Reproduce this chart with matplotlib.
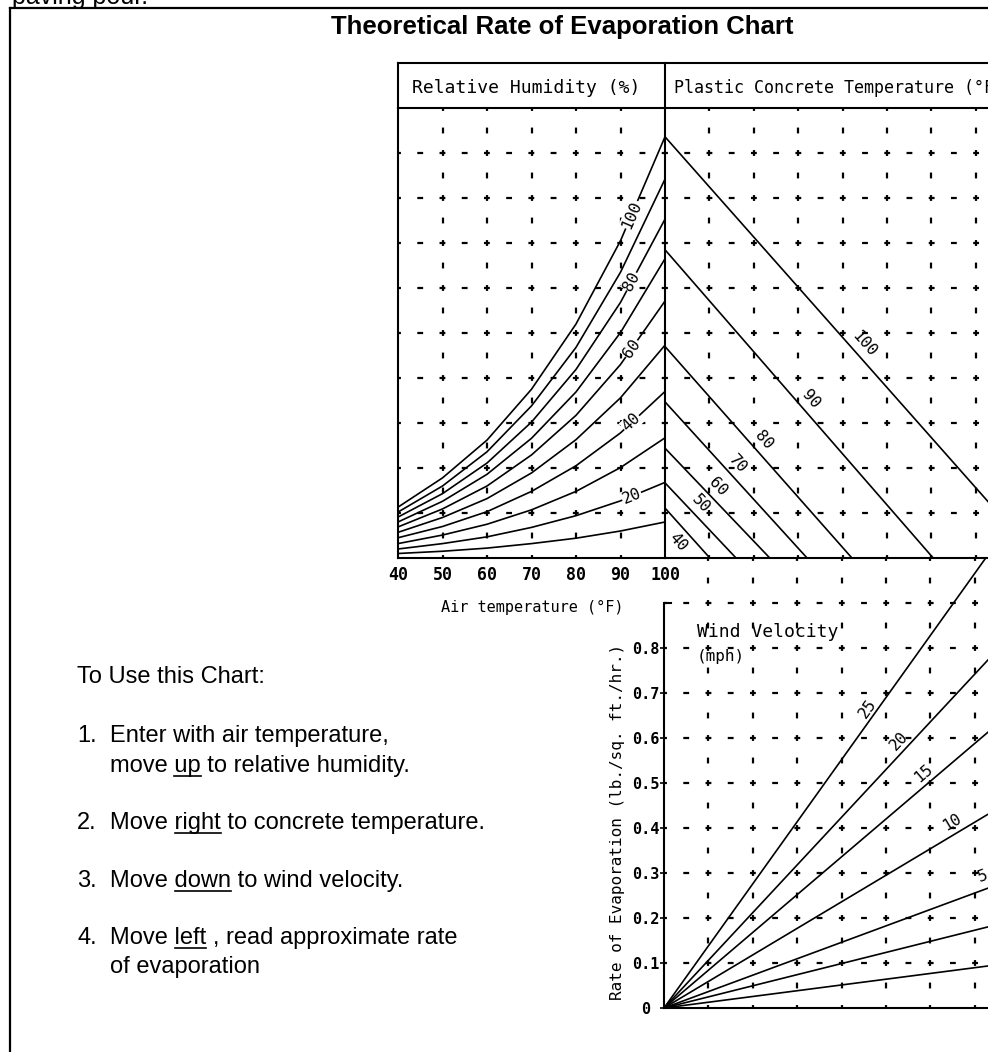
import numpy as np
import matplotlib.pyplot as plt

plt.rcParams['lines.scale_dashes'] = False

# --- values --------------------------------------------------------------
# vapour pressure scale: 0 .. 1.0, one grid square = 0.1
air_temp = [40, 50, 60, 70, 80, 90, 100]
rh_pct = [100, 90, 80, 70, 60, 50, 40, 30, 20, 10]
rh_curves = [
    [0.113, 0.178, 0.262, 0.375, 0.520, 0.705, 0.936],
    [0.102, 0.160, 0.236, 0.338, 0.468, 0.635, 0.842],
    [0.091, 0.143, 0.211, 0.302, 0.419, 0.568, 0.753],
    [0.080, 0.126, 0.186, 0.266, 0.369, 0.501, 0.665],
    [0.069, 0.109, 0.160, 0.229, 0.317, 0.430, 0.571],
    [0.057, 0.090, 0.132, 0.189, 0.263, 0.356, 0.473],
    [0.045, 0.070, 0.103, 0.148, 0.205, 0.278, 0.370],
    [0.032, 0.051, 0.075, 0.107, 0.148, 0.201, 0.267],
    [0.020, 0.032, 0.047, 0.068, 0.094, 0.127, 0.168],
    [0.010, 0.015, 0.022, 0.032, 0.044, 0.060, 0.080],
]
rh_labelled = [100, 80, 60, 40, 20]

conc_temp = [100, 90, 80, 70, 60, 50, 40]
conc_start = [0.936, 0.685, 0.470, 0.347, 0.244, 0.167, 0.111]   # at left edge
conc_end = [0.840, 0.604, 0.421, 0.320, 0.236, 0.160, 0.101]     # on base line

wind_mph = ['25', '20', '15', '10', '5', '', '']
wind_rate = [1.38, 1.06, 0.84, 0.59, 0.365, 0.247, 0.128]        # rate at x = 1.0

rate_ticks = [0, 0.1, 0.2, 0.3, 0.4, 0.5, 0.6, 0.7, 0.8]
rate_labels = ['0', '0.1', '0.2', '0.3', '0.4', '0.5', '0.6', '0.7', '0.8']

steps = [
    ('1.', 'Enter with air temperature,', '', ''),
    ('', 'move ', 'up', ' to relative humidity.'),
    ('2.', 'Move ', 'right', ' to concrete temperature.'),
    ('3.', 'Move ', 'down', ' to wind velocity.'),
    ('4.', 'Move ', 'left', ' , read approximate rate'),
    ('', 'of evaporation', '', ''),
]

# --- layout (pixels) --------------------------------------------------------
W, H = 988, 1052
CAD = 'DejaVu Sans Mono'
SANS = 'Liberation Sans'

fig = plt.figure(figsize=(W / 100, H / 100), dpi=100)


def box(x0, y0, x1, y1):
    return [x0 / W, 1 - y1 / H, (x1 - x0) / W, (y1 - y0) / H]


def dashed_grid(ax, xs, ys, xr, yr):
    for x in xs:
        ax.plot([x, x], yr, color='k', lw=1.6, ls=(2.1, (4.2, 12.0)), zorder=1)
    for y in ys:
        ax.plot(xr, [y, y], color='k', lw=1.6, ls=(2.1, (4.2, 11.8)), zorder=1)


def slope_angle(ax, p0, p1):
    a = ax.transData.transform(p0)
    b = ax.transData.transform(p1)
    return np.degrees(np.arctan2(b[1] - a[1], b[0] - a[0]))


ov = fig.add_axes([0, 0, 1, 1])
ov.set_xlim(0, W)
ov.set_ylim(H, 0)
ov.axis('off')

# outer frame + header boxes
ov.plot([10, 10], [8, H + 5], color='k', lw=1.6)
ov.plot([10, W + 5], [8, 8], color='k', lw=1.6)
ov.plot([398, W + 5], [63, 63], color='k', lw=1.5)
ov.plot([398, W + 5], [108, 108], color='k', lw=1.5)
ov.plot([398, 398], [63, 108], color='k', lw=1.5)
ov.plot([665, 665], [63, 558], color='k', lw=1.5)

ov.text(12, 4, 'paving pour.', fontfamily=SANS, fontsize=18, va='baseline')
ov.text(562, 34, 'Theoretical Rate of Evaporation Chart', fontfamily=SANS,
        fontsize=18.5, fontweight='bold', ha='center', va='baseline')
ov.text(412, 93, 'Relative Humidity (%)', fontfamily=CAD, fontsize=13, va='baseline')
ov.text(674, 93, 'Plastic Concrete Temperature (\u00b0F)', fontfamily=CAD,
        fontsize=12, va='baseline')
ov.text(532, 612, 'Air temperature (\u00b0F)', fontfamily=CAD, fontsize=11,
        ha='center', va='baseline')
ov.text(697, 637, 'Wind Velocity', fontfamily=CAD, fontsize=13, va='baseline')
ov.text(697, 657, '(mph)', fontfamily=CAD, fontsize=11.5, va='center')
ov.text(617, 822, 'Rate of Evaporation (lb./sq. ft./hr.)', fontfamily=CAD,
        fontsize=11.5, rotation=90, ha='center', va='center')

# --- relative humidity panel -------------------------------------------------
axA = fig.add_axes(box(398, 108, 665, 558), facecolor='none')
axA.set_xlim(40, 100)
axA.set_ylim(0, 1)
dashed_grid(axA, air_temp[1:-1], np.arange(1, 10) / 10, (40, 100), (0, 1))
for rh, vals in zip(rh_pct, rh_curves):
    axA.plot(air_temp, vals, color='k', lw=1.2, zorder=2)
    if rh in rh_labelled:
        tx = 92.5
        ty = np.interp(tx, air_temp, vals)
        ang = slope_angle(axA, (90, vals[5]), (100, vals[6]))
        axA.text(tx, ty, str(rh), fontfamily=CAD, fontsize=11.5, rotation=ang,
                 rotation_mode='anchor', ha='center', va='center', zorder=3,
                 bbox=dict(facecolor='white', edgecolor='none', pad=0.3))
axA.set_xticks(air_temp)
axA.set_xticklabels([str(t) for t in air_temp], fontfamily=CAD,
                    fontweight='bold', fontsize=12)
axA.tick_params(axis='x', length=0, pad=6)
axA.set_yticks([])
for s in ['top', 'right']:
    axA.spines[s].set_visible(False)
for s in ['left', 'bottom']:
    axA.spines[s].set_linewidth(1.5)

# --- concrete temperature panel ----------------------------------------------
axB = fig.add_axes(box(665, 108, 1109, 558), facecolor='none')
axB.set_xlim(0, 1)
axB.set_ylim(0, 1)
dashed_grid(axB, np.arange(1, 10) / 10, np.arange(1, 10) / 10, (0, 1), (0, 1))
label_at = [0.448, 0.329, 0.223, 0.164, 0.119, 0.081, 0.03]
label_dy = [13, 13, 13, 13, 12, 12, -14]
for t, s, e, lx, dy in zip(conc_temp, conc_start, conc_end, label_at, label_dy):
    axB.plot([0, e], [s, 0], color='k', lw=1.2, zorder=2)
    ly = s * (1 - lx / e)
    ang = slope_angle(axB, (0, s), (e, 0))
    axB.annotate(str(t), (lx, ly), xytext=(0, dy), textcoords='offset points',
                 fontfamily=CAD, fontsize=11.5, rotation=ang,
                 rotation_mode='anchor', ha='center', va='center')
axB.set_xticks([])
axB.set_yticks([])
for s in ['top', 'right', 'left']:
    axB.spines[s].set_visible(False)
axB.spines['bottom'].set_linewidth(1.5)

# --- wind velocity panel -----------------------------------------------------
axC = fig.add_axes(box(664, 558, 1108, 1008), facecolor='none')
axC.set_xlim(0, 1)
axC.set_ylim(0, 1)
dashed_grid(axC, np.arange(1, 10) / 10, np.arange(1, 10) / 10, (0, 1), (0, 1))
wind_label_x = [0.46, 0.53, 0.585, 0.648, 0.718]
for i, r in enumerate(wind_rate):
    axC.plot([0, 1], [0, r], color='k', lw=1.2, zorder=2)
    if wind_mph[i]:
        lx = wind_label_x[i]
        ang = slope_angle(axC, (0, 0), (1, r))
        axC.annotate(wind_mph[i], (lx, r * lx), xytext=(0, 10),
                     textcoords='offset points', fontfamily=CAD, fontsize=11.5,
                     rotation=ang, rotation_mode='anchor', ha='center', va='center')
axC.plot([0, 0.015], [0.9, 0.9], color='k', lw=1.5)
axC.set_xticks([])
axC.set_yticks(rate_ticks)
axC.set_yticklabels(rate_labels, fontfamily=CAD, fontweight='bold', fontsize=11)
for lab in axC.get_yticklabels():
    lab.set_ha('center')
axC.tick_params(axis='y', length=3, width=1.2, pad=10)
for s in ['top', 'right']:
    axC.spines[s].set_visible(False)
axC.spines['left'].set_bounds(0, 0.9)
for s in ['left', 'bottom']:
    axC.spines[s].set_linewidth(1.5)

# --- instructions -----------------------------------------------------------
ov.text(77, 683, 'To Use this Chart:', fontfamily=SANS, fontsize=17, va='baseline')
renderer = fig.canvas.get_renderer()
baselines = [742, 772, 829, 887, 944, 973]
for (num, pre, word, post), yb in zip(steps, baselines):
    if num:
        ov.text(77, yb, num, fontfamily=SANS, fontsize=17, va='baseline')
    ov.text(110, yb, pre + word + post, fontfamily=SANS, fontsize=17, va='baseline')
    if word:
        t1 = ov.text(110, yb, pre + word, fontfamily=SANS, fontsize=17)
        t2 = ov.text(110, yb, word, fontfamily=SANS, fontsize=17)
        w1 = t1.get_window_extent(renderer).width
        w2 = t2.get_window_extent(renderer).width
        t1.remove()
        t2.remove()
        ov.plot([110 + w1 - w2, 110 + w1], [yb + 4, yb + 4], color='k', lw=1.2)

fig.savefig('out.png', dpi=100)
